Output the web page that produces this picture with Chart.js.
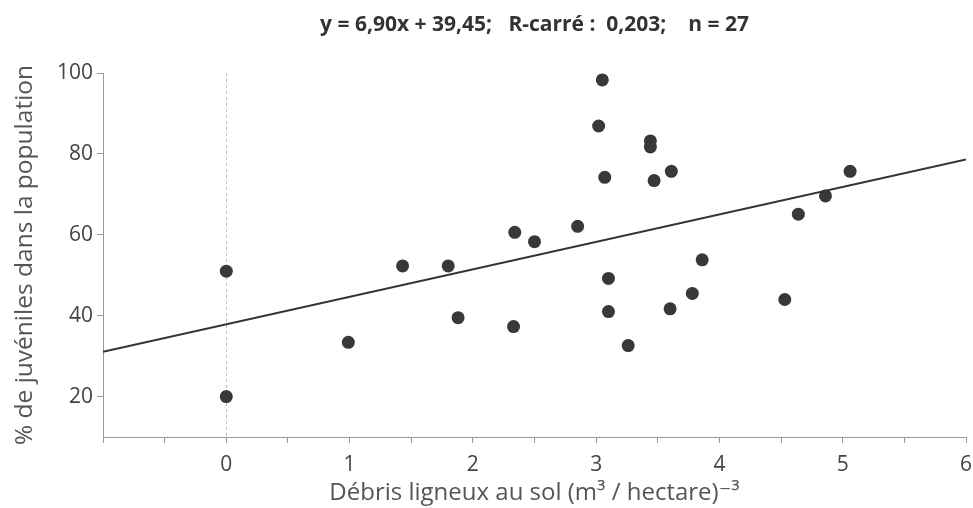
<!DOCTYPE html>
<html>
<head>
<meta charset="utf-8">
<script src="https://cdn.jsdelivr.net/npm/chart.js@4/dist/chart.umd.min.js"></script>
<style>
  html, body { margin: 0; padding: 0; background: #fff; }
  .wrap { width: 973px; height: 508px; }
</style>
</head>
<body>
<div class="wrap"><canvas id="debrisChart" width="973" height="508"></canvas></div>
<script>
// debris on the ground (x) vs share of juveniles (y), 27 sites
const debris = [0, 0, 0.99, 1.43, 1.80, 1.88, 2.34, 2.33, 2.50, 2.85, 3.05, 3.02, 3.07, 3.44, 3.44, 3.47, 3.61,
  3.10, 3.10, 3.26, 3.60, 3.78, 3.86, 4.53, 4.64, 4.86, 5.06];
const juveniles = [51.0, 20.0, 33.4, 52.3, 52.3, 39.5, 60.6, 37.3, 58.3, 62.1, 98.3, 86.9, 74.2, 83.2, 81.7, 73.4, 75.7,
  49.2, 41.0, 32.6, 41.7, 45.5, 53.8, 44.0, 65.1, 69.6, 75.7];

// regression line as drawn
const fitX = [-1, 6];
const fitY = [31.1, 78.6];

const xTicks = [-1, -0.5, 0, 0.5, 1, 1.5, 2, 2.5, 3, 3.5, 4, 4.5, 5, 5.5, 6];
const yTicks = [20, 40, 60, 80, 100];

const titleText = 'y = 6,90x + 39,45;   R-carré :  0,203;    n = 27';
const xTitle = 'Débris ligneux au sol (m³ / hectare)⁻³';
const yTitle = '% de juvéniles dans la population';

const FONT = "'Open Sans', 'DejaVu Sans', sans-serif";

const points = debris.map((x, i) => ({ x: x, y: juveniles[i] }));
const fitLine = fitX.map((x, i) => ({ x: x, y: fitY[i] }));

const ctx = document.getElementById('debrisChart').getContext('2d');

new Chart(ctx, {
  type: 'scatter',
  data: {
    datasets: [
      {
        data: points,
        pointRadius: 6.5,
        pointHoverRadius: 6.5,
        pointBackgroundColor: '#383838',
        pointBorderColor: '#383838',
        pointBorderWidth: 0,
        order: 2
      },
      {
        type: 'line',
        data: fitLine,
        borderColor: '#333',
        borderWidth: 2,
        pointRadius: 0,
        fill: false,
        tension: 0,
        order: 1
      }
    ]
  },
  options: {
    responsive: false,
    animation: false,
    layout: { padding: { left: 0, right: 7, top: 0, bottom: 0 } },
    plugins: {
      legend: { display: false },
      tooltip: { enabled: false },
      title: {
        display: true,
        text: titleText,
        fullSize: false,
        color: '#333',
        font: { family: FONT, size: 21, weight: 'bold', lineHeight: 1.2 },
        padding: { top: 12, bottom: 35.8 }
      }
    },
    scales: {
      x: {
        type: 'linear',
        min: -1,
        max: 6,
        afterBuildTicks: (scale) => { scale.ticks = xTicks.map(v => ({ value: v })); },
        afterFit: (scale) => {
          scale.height = 71;
          scale.paddingLeft = 0;
          scale.paddingRight = 0;
        },
        border: { display: true, color: '#999', width: 1, dash: [3, 3] },
        grid: {
          drawOnChartArea: true,
          color: (c) => (c.tick && c.tick.value === 0 ? '#bbb' : 'rgba(0,0,0,0)'),
          tickColor: '#999',
          tickBorderDash: [],
          tickLength: 6
        },
        ticks: {
          autoSkip: false,
          maxRotation: 0,
          padding: 9,
          color: '#444',
          font: { family: FONT, size: 21 },
          callback: (v) => (v >= 0 && Number.isInteger(v) ? String(v) : '')
        },
        title: {
          display: true,
          text: xTitle,
          color: '#555',
          font: { family: FONT, size: 24 },
          padding: { top: 0, bottom: 0 }
        }
      },
      y: {
        type: 'linear',
        min: 10,
        max: 100,
        afterBuildTicks: (scale) => { scale.ticks = yTicks.map(v => ({ value: v })); },
        afterFit: (scale) => {
          scale.width = 103;
          scale.paddingTop = 0;
          scale.paddingBottom = 0;
        },
        border: { display: true, color: '#999', width: 1 },
        grid: {
          drawOnChartArea: false,
          tickColor: '#999',
          tickLength: 6
        },
        ticks: {
          padding: 4,
          color: '#444',
          font: { family: FONT, size: 21 }
        },
        title: {
          display: true,
          text: yTitle,
          color: '#555',
          font: { family: FONT, size: 24.5 },
          padding: { top: 10, bottom: 0 }
        }
      }
    }
  }
});
</script>
</body>
</html>
